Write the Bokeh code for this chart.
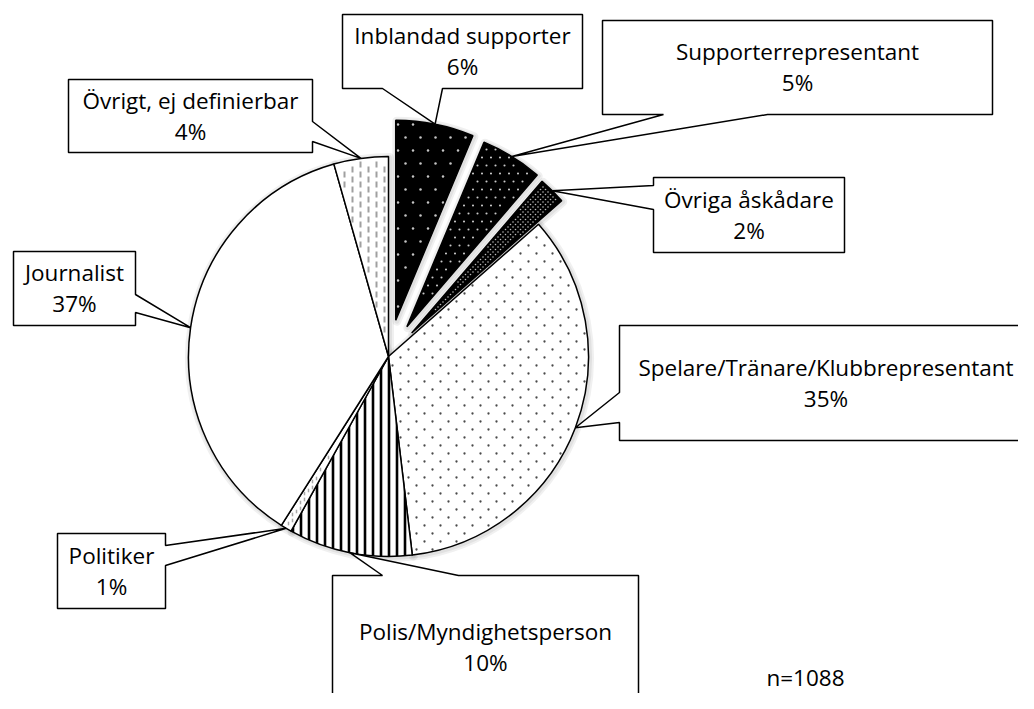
import math
import numpy as np
from bokeh.plotting import figure
from bokeh.models import Range1d
from bokeh.embed import file_html
from bokeh.resources import INLINE
from bokeh.core.properties import value

# ---------------- data ----------------
categories = ["Inblandad supporter", "Supporterrepresentant", "Övriga åskådare",
              "Spelare/Tränare/Klubbrepresentant", "Polis/Myndighetsperson",
              "Politiker", "Journalist", "Övrigt, ej definierbar"]
shares = [6.3, 5.0, 2.2, 34.6, 10.0, 0.9, 36.6, 4.4]
n_label = "n=1088"

# ---------------- style ----------------
explode = [37, 35, 33, 0, 0, 0, 0, 0]
fills = ["black", "black", "black", "white", "white", "white", "white", "white"]
# texture per slice: (kind, dx, dy, color, size)
textures = [
    ("dot", 15, 13, "#c4c4c4", 2.5),
    ("dot", 9, 8, "#c8c8c8", 2.1),
    ("dot", 5, 2.5, "#bdbdbd", 1.6),
    ("dot", 16, 8, "#4a4a4a", 2.3),
    ("vline", 0, 0, "black", 0),
    ("dash", 4, 6, "#a8a8a8", 1.5),
    (None, 0, 0, None, 0),
    ("dash", 8, 10, "#a0a0a0", 2.0),
]

# label boxes (page pixels): left, top, right, bottom, tail side, tail base start, tail base end
boxes = [
    (342, 14, 582, 88, "bottom", 382, 442),
    (602, 20, 992, 114, "bottom", 663, 767),
    (653, 177, 844, 252, "left", 185, 209),
    (619, 325, 1032, 440, "left", 392, 422),
    (332, 575, 638, 719, "top", 382, 458),
    (57, 533, 165, 608, "right", 545, 565),
    (13, 251, 135, 325, "right", 294, 312),
    (68, 79, 312, 152, "right", 121, 141),
]

W, H = 1018, 693
CX, CY, R = 388, 356, 200
FONT = "Open Sans"
FS = "22.5px"


def Y(y):
    return 709 - y


p = figure(width=W, height=H, x_range=Range1d(0, W), y_range=Range1d(709 - H, 709),
           output_backend="svg", toolbar_location=None, min_border=0)
p.axis.visible = False
p.grid.visible = False
p.outline_line_color = None
p.background_fill_color = "white"

total = sum(shares)
geo = []
cum = 0.0
for i, s in enumerate(shares):
    a0 = cum / total * 2 * math.pi
    a1 = (cum + s) / total * 2 * math.pi
    am = (a0 + a1) / 2
    cum += s
    cx = CX + explode[i] * math.sin(am)
    cy = Y(CY) + explode[i] * math.cos(am)
    geo.append((cx, cy, a0, a1, am))


def inside(px, py, g, m):
    cx, cy, a0, a1, _ = g
    dx = px - cx
    dy = py - cy
    r = np.hypot(dx, dy)
    th = np.mod(np.arctan2(dx, dy), 2 * math.pi)
    ok = (r <= R - m) & (th >= a0) & (th <= a1)
    ok &= r * np.sin(th - a0) >= m
    ok &= r * np.sin(a1 - th) >= m
    return ok


def grid(g, sx, sy, stagger_cols=False):
    cx, cy = g[0], g[1]
    xs = np.arange(math.floor((cx - R) / sx) * sx, cx + R + sx, sx)
    ys = np.arange(math.floor((cy - R) / sy) * sy, cy + R + sy, sy)
    X, Yg = np.meshgrid(xs, ys)
    if stagger_cols:
        col = np.round(X / sx).astype(int)
        Yg = Yg + (col % 2) * sy / 2
    else:
        row = np.round(Yg / sy).astype(int)
        X = X + (row % 2) * sx / 2
    return X.ravel(), Yg.ravel()


# soft shadow
for cx, cy, a0, a1, am in geo:
    for lw in (9, 5):
        p.wedge(x=cx + 1, y=cy - 1, radius=R, start_angle=math.pi / 2 - a0,
                end_angle=math.pi / 2 - a1, direction="clock", fill_color=None,
                line_color="black", line_alpha=0.06, line_width=lw, line_join="round")

apexes = []
for i, g in enumerate(geo):
    cx, cy, a0, a1, am = g
    kind, sx, sy, col, sz = textures[i]
    kw = dict(fill_color=fills[i], line_color=None)
    if kind == "vline":
        kw.update(hatch_pattern="|", hatch_color="black", hatch_scale=8, hatch_weight=2.6)
    p.wedge(x=cx, y=cy, radius=R, start_angle=math.pi / 2 - a0,
            end_angle=math.pi / 2 - a1, direction="clock", **kw)
    if kind == "dot":
        X, Yg = grid(g, sx, sy)
        ok = inside(X, Yg, g, 1.8)
        p.scatter(X[ok], Yg[ok], marker="circle", size=sz, fill_color=col, line_color=None)
    elif kind == "dash":
        X, Yg = grid(g, sx, sy, stagger_cols=True)
        half = sy * 0.3
        ok = inside(X, Yg + half, g, 1.5) & inside(X, Yg - half, g, 1.5)
        p.rect(X[ok], Yg[ok], width=sz, height=sy * 0.6, fill_color=col, line_color=None)
    p.wedge(x=cx, y=cy, radius=R, start_angle=math.pi / 2 - a0,
            end_angle=math.pi / 2 - a1, direction="clock", fill_color=None,
            line_color="black", line_width=1.5)
    apexes.append((cx + R * math.sin(am), cy + R * math.cos(am)))

for i, (l, t, r, b, side, b0, b1) in enumerate(boxes):
    ax, ay = apexes[i]
    ay = 709 - ay  # to page px
    if side == "bottom":
        pts = [(l, t), (r, t), (r, b), (b1, b), (ax, ay), (b0, b), (l, b)]
    elif side == "top":
        pts = [(l, t), (b0, t), (ax, ay), (b1, t), (r, t), (r, b), (l, b)]
    elif side == "left":
        pts = [(l, t), (r, t), (r, b), (l, b), (l, b1), (ax, ay), (l, b0)]
    else:
        pts = [(l, t), (r, t), (r, b0), (ax, ay), (r, b1), (r, b), (l, b)]
    p.patch([q[0] for q in pts], [Y(q[1]) for q in pts], fill_color="white",
            line_color="black", line_width=1.5)
    mx = (l + r) / 2
    my = (t + b) / 2 if side != "top" else 647
    pct = f"{round(shares[i] / total * 100)}%"
    p.text(x=[mx, mx], y=[Y(my - 16), Y(my + 15)], text=[categories[i], pct],
           text_align="center", text_baseline="middle", text_font=value(FONT),
           text_font_size=FS, text_color="black")

p.text(x=[805], y=[Y(677)], text=[n_label], text_align="center", text_baseline="middle",
       text_font=value(FONT), text_font_size=FS, text_color="black")

open("out.html", "w").write(file_html(p, INLINE))
